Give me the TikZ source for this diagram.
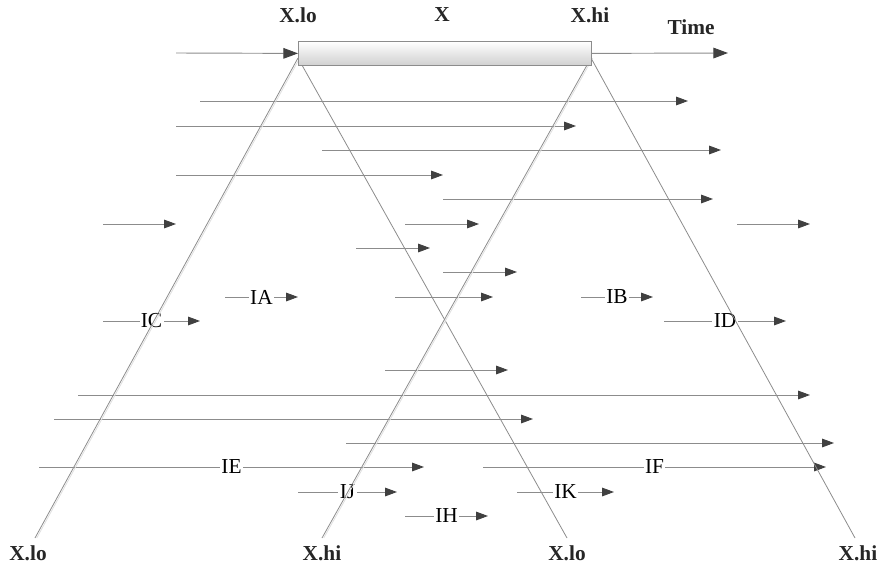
\documentclass[tikz,border=0pt]{standalone}
\usepackage{fontspec}
\setmainfont{Liberation Serif}
\usetikzlibrary{arrows.meta}
\definecolor{linegray}{HTML}{8C8C8C}
\definecolor{tipgray}{HTML}{404040}
\definecolor{boxgray}{HTML}{D0D0D0}
\tikzset{
  seg/.style={draw=linegray, line width=0.7pt, -{Triangle[length=9pt,width=6.5pt,color=tipgray]}},
  bigseg/.style={draw=linegray, line width=0.7pt, -{Triangle[length=11pt,width=8pt,color=tipgray]}},
  slant/.style={draw=linegray, line width=0.6pt},
  lab/.style={fill=white, inner sep=1pt, font=\fontsize{16}{16}\selectfont},
  blab/.style={inner sep=0pt, font=\fontsize{16}{16}\selectfont\bfseries, text=black!85},
}
\begin{document}
\begin{tikzpicture}[x=0.75pt,y=-0.75pt]
\useasboundingbox (0,0) rectangle (881,567);

% top labels
\node[blab] (tlo) at (298,15) {X.lo};
\node[blab] (tx) at (442,15) {X};
\node[blab] (thi) at (590,15) {X.hi};
\node[blab] (time) at (691,27) {Time};
% bottom labels
\node[blab] (b1) at (28,553) {X.lo};
\node[blab] (b2) at (322,553) {X.hi};
\node[blab] (b3) at (567,553) {X.lo};
\node[blab] (b4) at (858,553) {X.hi};

% horizontal arrows
\draw[seg] (200,101) -- (688,101);
\draw[seg] (176,126) -- (576,126);
\draw[seg] (322,150) -- (721,150);
\draw[seg] (176,175) -- (443,175);
\draw[seg] (443,199) -- (713,199);
\draw[seg] (103,224) -- (176,224);
\draw[seg] (405,224) -- (479,224);
\draw[seg] (737,224) -- (810,224);
\draw[seg] (356,248) -- (430,248);
\draw[seg] (443,272) -- (517,272);
\draw[seg] (225,297) -- node[lab] (ia) {IA} (298,297);
\draw[seg] (395,297) -- (493,297);
\draw[seg] (581,297) -- node[lab] (ib) {IB} (653,297);
\draw[seg] (103,321) -- node[lab] (ic) {IC} (200,321);
\draw[seg] (664,321) -- node[lab] (id) {ID} (786,321);
\draw[seg] (385,370) -- (508,370);
\draw[seg] (78,395) -- (810,395);
\draw[seg] (54,419) -- (533,419);
\draw[seg] (346,443) -- (834,443);
\draw[seg] (39,467) -- node[lab] (ie) {IE} (424,467);
\draw[seg] (483,467) -- node[lab] (if) {IF} (826,467);
\draw[seg] (298,492) -- node[lab] (ij) {IJ} (397,492);
\draw[seg] (517,492) -- node[lab] (ik) {IK} (614,492);
\draw[seg] (405,516) -- node[lab] (ih) {IH} (488,516);

% slanted lines
\coordinate (plo) at (298,58);
\coordinate (phi) at (591,58);
\coordinate (e1) at (35,538);
\coordinate (e2) at (322,538);
\coordinate (e3) at (567,538);
\coordinate (e4) at (855,538);
\draw[slant] (plo) -- (e1);
\draw[slant] (plo) -- (e3);
\draw[slant] (phi) -- (e2);
\draw[slant] (phi) -- (e4);
\draw[draw=gray!25, line width=0.6pt] ([xshift=1.3pt]plo) -- ([xshift=1.3pt]e1);
\draw[draw=gray!25, line width=0.6pt] ([xshift=1.3pt]phi) -- ([xshift=1.3pt]e2);

% the X box
\node[draw=linegray, line width=0.6pt, top color=white, bottom color=boxgray,
      minimum width=293*0.75pt, minimum height=24*0.75pt, inner sep=0pt,
      anchor=north west] (xbox) at (298,41) {};
\coordinate (in) at (176,53);
\coordinate (out) at (728,53);
\draw[bigseg] (in) -- (xbox.west);
\draw[bigseg] (xbox.east) -- (out);
\end{tikzpicture}
\end{document}
